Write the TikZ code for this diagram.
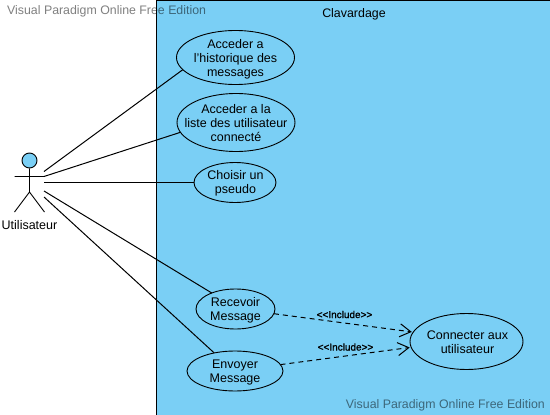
\documentclass[tikz,border=0pt]{standalone}
\usepackage{fontspec}
\setmainfont{Liberation Sans}
\usetikzlibrary{shapes.geometric,arrows.meta}
\definecolor{sysblue}{HTML}{7ACFF5}
\tikzset{
  px/.style={x=1pt,y=-1pt},
  usecase/.style={draw=black,fill=sysblue,ellipse,inner sep=-14pt,outer sep=0pt,align=center,font=\fontsize{12.5}{14}\selectfont,line width=0.9pt},
  casetext/.style={align=center,font=\fontsize{12.5}{14}\selectfont,inner sep=0pt},
  assoc/.style={draw=black,line width=1pt},
  incl/.style={draw=black,line width=1pt,dash pattern=on 5pt off 4pt,shorten >=1.5pt,-{Straight Barb[length=11pt,width=13pt,line width=1pt]}},
  incllabel/.style={font=\fontsize{10}{11}\selectfont,inner sep=0pt,draw=none,text=black},
  actorline/.style={draw=black,line width=0.9pt},
  watermark/.style={font=\fontsize{12.35}{14}\selectfont,text=black,text opacity=0.5,inner sep=0pt}
}
\begin{document}
\begin{tikzpicture}[px]
\useasboundingbox (0,0) rectangle (550,415);
\fill[white] (0,0) rectangle (550,415);
\draw[draw=black,fill=sysblue,line width=1pt] (156.5,0.5) rectangle (551,416);
\node[font=\fontsize{12.4}{14}\selectfont,inner sep=0pt] (title) at (354,14) {Clavardage};
% actor
\node[circle,draw=black,fill=sysblue,line width=0.9pt,minimum size=15pt,inner sep=0pt] (head) at (29.5,160.5) {};
\coordinate (hip) at (29.5,192);
\coordinate (armL) at (14.5,176.5);
\coordinate (armR) at (44.5,176.5);
\coordinate (legL) at (14.5,212);
\coordinate (legR) at (44.5,212);
\draw[actorline] (head) -- (hip) (armL) -- (armR) (legL) -- (hip) -- (legR);
\node[font=\fontsize{12.5}{14}\selectfont,inner sep=0pt] (actor) at (29.5,225.5) {Utilisateur};
% use cases
\node[usecase,minimum width=118pt,minimum height=54pt] (histo) at (235.5,57.5) {};
\node[usecase,minimum width=118pt,minimum height=58pt] (liste) at (236,122.5) {};
\node[usecase,minimum width=82pt,minimum height=40pt] (pseudo) at (235,182.5) {};
\node[usecase,minimum width=79pt,minimum height=40pt] (recv) at (235.5,309) {};
\node[usecase,minimum width=96pt,minimum height=40pt] (send) at (235,371) {};
\node[usecase,minimum width=113pt,minimum height=56pt] (conn) at (466.5,341.5) {};
\node[casetext] (thisto) at ([yshift=-1.5pt]histo.center) {Acceder a\\l'historique des\\messages};
\node[casetext] (tliste) at ([yshift=-1pt]liste.center) {Acceder a la\\liste des utilisateur\\connecté};
\node[casetext] (tpseudo) at ([xshift=0.5pt,yshift=-1pt]pseudo.center) {Choisir un\\pseudo};
\node[casetext] (trecv) at ([yshift=-1pt]recv.center) {Recevoir\\Message};
\node[casetext] (tsend) at ([yshift=-1.5pt]send.center) {Envoyer\\Message};
\node[casetext] (tconn) at ([xshift=1pt,yshift=-1pt]conn.center) {Connecter aux\\utilisateur};
% associations
\coordinate (a1) at (44,171.5);
\coordinate (a2) at (44,176.5);
\coordinate (a3) at (44,182.5);
\coordinate (a4) at (44,191);
\coordinate (a5) at (44,197);
\draw[assoc] (a1) -- (histo.193);
\draw[assoc] (a2) -- (liste.190);
\draw[assoc] (a3) -- (pseudo);
\draw[assoc] (a4) -- (recv.146);
\draw[assoc] (a5) -- (send.139);
% includes
\draw[incl] (recv.-7) -- (conn.170);
\draw[incl] (send.8) -- (conn.186);
\node[incllabel] (l1) at (344.5,314.5) {\addfontfeature{FakeBold=1.2}<{}<Include>{}>};
\node[incllabel] (l2) at (345.5,347) {\addfontfeature{FakeBold=1.2}<{}<Include>{}>};
% watermarks
\node[watermark,anchor=west] (w1) at (7,11.5) {Visual Paradigm Online Free Edition};
\node[watermark,anchor=east] (w2) at (545,405.5) {Visual Paradigm Online Free Edition};
\end{tikzpicture}
\end{document}
